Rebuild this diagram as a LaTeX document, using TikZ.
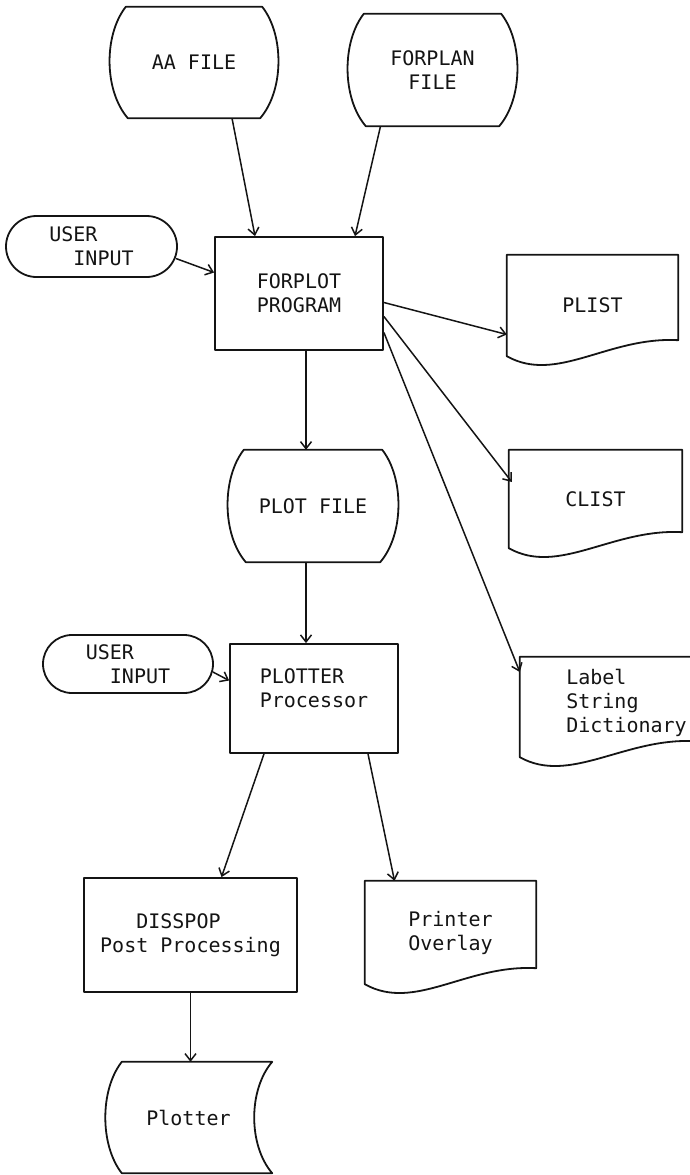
\documentclass[tikz,border=0pt]{standalone}
\usepackage{fontspec}
\setmonofont{DejaVu Sans Mono}
\usetikzlibrary{arrows.meta, calc, shapes.misc}
\definecolor{ink}{HTML}{141414}

% drum outline (file), curved sides
\newcommand{\drumoutline}[1]{%
  \draw[outline] ($(#1.north west)+(16,0)$) -- ($(#1.north east)+(-16,0)$)
    .. controls ($(#1.north east)+(6,28)$) and ($(#1.south east)+(6,-28)$) .. ($(#1.south east)+(-18,0)$)
    -- ($(#1.south west)+(18,0)$)
    .. controls ($(#1.south west)+(-6,-28)$) and ($(#1.north west)+(-6,28)$) .. cycle;}
% printed document, wavy bottom
\newcommand{\docoutline}[1]{%
  \draw[outline] (#1.south west) -- (#1.north west) -- (#1.north east) -- ($(#1.south east)+(0,-16)$)
    .. controls ($(#1.south east)+(-70,-20)$) and ($(#1.south west)+(50,28)$) .. cycle;}

\begin{document}
\begin{tikzpicture}[x=1pt, y=-1pt, color=ink,
  font=\ttfamily\fontsize{20}{24}\selectfont,
  outline/.style={line width=1.8pt, line join=round},
  blank/.style={inner sep=0pt, align=center},
  proc/.style={draw, outline, rectangle, inner sep=0pt, align=center},
  term/.style={draw, outline, rounded rectangle, inner sep=0pt, align=left},
  arr/.style={-{Straight Barb[length=7pt,width=11pt]}, line width=1.5pt}]
  \useasboundingbox (0,0) rectangle (689,1175);

  % Input files
  \node[blank, minimum width=168, minimum height=111] (aa) at (194,62.5) {AA FILE};
  \drumoutline{aa}
  \node[blank, minimum width=169, minimum height=112] (fpl) at (432.5,70) {FORPLAN\\FILE};
  \drumoutline{fpl}

  % FORPLOT program
  \node[term, minimum width=171, minimum height=61] (uione) at (91.5,246.5) {USER\\\phantom{XX}INPUT};
  \node[proc, minimum width=168, minimum height=113] (fp) at (299,293.5) {FORPLOT\\PROGRAM};

  % Listings
  \node[blank, minimum width=171, minimum height=101] (plist) at (592.5,305.5) {PLIST};
  \docoutline{plist}
  \node[blank, minimum width=173, minimum height=98] (clist) at (595.5,499) {CLIST};
  \docoutline{clist}
  \node[blank, minimum width=175, minimum height=100,
    label={[anchor=west, align=left, xshift=43pt, yshift=4pt]west:Label\\String\\Dictionary}] (lsd) at (607.5,707) {};
  \docoutline{lsd}

  % Plot file
  \node[blank, minimum width=170, minimum height=112] (pf) at (313,506) {PLOT FILE};
  \drumoutline{pf}

  % PLOTTER processor
  \node[term, minimum width=170, minimum height=58] (uitwo) at (128,664) {USER\\\phantom{XX}INPUT};
  \node[proc, minimum width=168, minimum height=109, align=left, text depth=21pt] (pp) at (314,698.5) {PLOTTER\\Processor};

  % Outputs
  \node[proc, minimum width=213, minimum height=114, align=left] (dp) at (190.5,935) {\phantom{XXX}DISSPOP\\Post Processing};
  \node[blank, minimum width=171, minimum height=103] (po) at (450.5,932.5) {Printer\\Overlay};
  \docoutline{po}
  \node[blank, minimum width=167, minimum height=111] (plt) at (188.5,1117.5) {Plotter};
  \draw[outline] ($(plt.north west)+(17,0)$) -- (plt.north east)
    .. controls ($(plt.north east)+(-24,28)$) and ($(plt.south east)+(-24,-28)$) .. (plt.south east)
    -- ($(plt.south west)+(17,0)$)
    .. controls ($(plt.south west)+(-5,-28)$) and ($(plt.north west)+(-5,28)$) .. cycle;

  % Connections
  \draw[arr] ([xshift=38pt]aa.south) -- ([xshift=-44pt]fp.north);
  \draw[arr] ([xshift=-52pt]fpl.south) -- ([xshift=56pt]fp.north);
  \draw[arr] ([xshift=-2pt,yshift=-12pt]uione.east) -- ([yshift=21pt]fp.west);
  \draw[arr] ([yshift=-9pt]fp.east) -- ([yshift=-29pt]plist.west);
  \draw[arr] ([yshift=-23pt]fp.east) -- ([xshift=3pt,yshift=17pt]clist.west);
  \draw[arr] ([yshift=-39pt]fp.east) -- ([yshift=35pt]lsd.west);
  \draw[arr] ([xshift=7pt]fp.south) -- ([xshift=-7pt]pf.north);
  \draw[arr] ([xshift=-7pt]pf.south) -- ([xshift=-8pt]pp.north);
  \draw[arr] ([xshift=-1pt,yshift=-8pt]uitwo.east) -- ([yshift=18pt]pp.west);
  \draw[arr] ([xshift=-50pt]pp.south) -- ([xshift=31pt]dp.north);
  \draw[arr] ([xshift=54pt]pp.south) -- ([xshift=-56pt]po.north);
  \draw[arr] (dp.south) -- (dp.south |- plt.north);
\end{tikzpicture}
\end{document}
